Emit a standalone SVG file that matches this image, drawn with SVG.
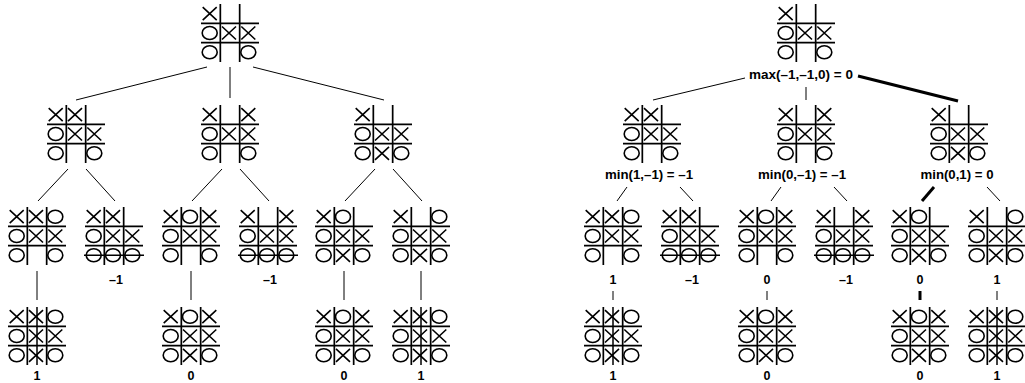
<svg xmlns="http://www.w3.org/2000/svg" xmlns:xlink="http://www.w3.org/1999/xlink" width="1025" height="383" viewBox="0 0 1025 383">
<style>
.grid{fill:none;stroke:#000;stroke-width:1.7}
.mk{fill:none;stroke:#000;stroke-width:1.6}
.st{stroke:#000;stroke-width:1.5}
.cn{stroke:#000;stroke-width:1;fill:none}
.th{stroke:#000;stroke-width:3;fill:none}
.lb{font-family:"Liberation Sans",Arial,sans-serif;font-weight:bold;font-size:12.5px;text-anchor:middle;fill:#000}
</style>
<defs>
<path id="grid" class="grid" d="M19.33 0V58M38.67 0V58M0 19.33H58M0 38.67H58"/>
<path id="X" class="mk" d="M-7 -6.5L7 6.5M-7 6.5L7 -6.5"/>
<ellipse id="O" class="mk" rx="7.5" ry="6.5"/>
<g id="mid"><use href="#O" x="8.7" y="29"/><use href="#X" x="28" y="29"/><use href="#X" x="47.3" y="29"/></g>
<g id="b_root"><use href="#grid"/><use href="#X" x="8.7" y="9.7"/><use href="#mid"/><use href="#O" x="8.7" y="48.3"/><use href="#O" x="47.3" y="48.3"/></g>
<g id="b_1a"><use href="#grid"/><use href="#X" x="8.7" y="9.7"/><use href="#X" x="28" y="9.7"/><use href="#mid"/><use href="#O" x="8.7" y="48.3"/><use href="#O" x="47.3" y="48.3"/></g>
<g id="b_1b"><use href="#grid"/><use href="#X" x="8.7" y="9.7"/><use href="#X" x="47.3" y="9.7"/><use href="#mid"/><use href="#O" x="8.7" y="48.3"/><use href="#O" x="47.3" y="48.3"/></g>
<g id="b_1c"><use href="#grid"/><use href="#X" x="8.7" y="9.7"/><use href="#mid"/><use href="#O" x="8.7" y="48.3"/><use href="#X" x="28" y="48.3"/><use href="#O" x="47.3" y="48.3"/></g>
<g id="b_2a"><use href="#grid"/><use href="#X" x="8.7" y="9.7"/><use href="#X" x="28" y="9.7"/><use href="#O" x="47.3" y="9.7"/><use href="#mid"/><use href="#O" x="8.7" y="48.3"/><use href="#O" x="47.3" y="48.3"/></g>
<g id="b_2b"><use href="#grid"/><use href="#X" x="8.7" y="9.7"/><use href="#X" x="28" y="9.7"/><use href="#mid"/><use href="#O" x="8.7" y="48.3"/><use href="#O" x="28" y="48.3"/><use href="#O" x="47.3" y="48.3"/><line class="st" x1="-1" y1="48.3" x2="59" y2="48.3"/></g>
<g id="b_2c"><use href="#grid"/><use href="#X" x="8.7" y="9.7"/><use href="#O" x="28" y="9.7"/><use href="#X" x="47.3" y="9.7"/><use href="#mid"/><use href="#O" x="8.7" y="48.3"/><use href="#O" x="47.3" y="48.3"/></g>
<g id="b_2d"><use href="#grid"/><use href="#X" x="8.7" y="9.7"/><use href="#X" x="47.3" y="9.7"/><use href="#mid"/><use href="#O" x="8.7" y="48.3"/><use href="#O" x="28" y="48.3"/><use href="#O" x="47.3" y="48.3"/><line class="st" x1="-1" y1="48.3" x2="59" y2="48.3"/></g>
<g id="b_2e"><use href="#grid"/><use href="#X" x="8.7" y="9.7"/><use href="#O" x="28" y="9.7"/><use href="#mid"/><use href="#O" x="8.7" y="48.3"/><use href="#X" x="28" y="48.3"/><use href="#O" x="47.3" y="48.3"/></g>
<g id="b_2f"><use href="#grid"/><use href="#X" x="8.7" y="9.7"/><use href="#O" x="47.3" y="9.7"/><use href="#mid"/><use href="#O" x="8.7" y="48.3"/><use href="#X" x="28" y="48.3"/><use href="#O" x="47.3" y="48.3"/></g>
<g id="b_3x"><use href="#grid"/><use href="#X" x="8.7" y="9.7"/><use href="#X" x="28" y="9.7"/><use href="#O" x="47.3" y="9.7"/><use href="#mid"/><use href="#O" x="8.7" y="48.3"/><use href="#X" x="28" y="48.3"/><use href="#O" x="47.3" y="48.3"/><line class="st" x1="29" y1="0" x2="29" y2="58"/></g>
<g id="b_3d"><use href="#grid"/><use href="#X" x="8.7" y="9.7"/><use href="#O" x="28" y="9.7"/><use href="#X" x="47.3" y="9.7"/><use href="#mid"/><use href="#O" x="8.7" y="48.3"/><use href="#X" x="28" y="48.3"/><use href="#O" x="47.3" y="48.3"/></g>
</defs>

<g id="connectors">
<line class="cn" x1="207" y1="67" x2="76" y2="100"/>
<line class="cn" x1="230" y1="67" x2="230" y2="98"/>
<line class="cn" x1="253" y1="67" x2="384" y2="100"/>
<line class="cn" x1="68" y1="169" x2="38" y2="201"/>
<line class="cn" x1="86" y1="169" x2="115" y2="201"/>
<line class="cn" x1="222" y1="169" x2="192" y2="201"/>
<line class="cn" x1="240" y1="169" x2="269" y2="201"/>
<line class="cn" x1="375" y1="169" x2="345" y2="201"/>
<line class="cn" x1="393" y1="169" x2="422" y2="201"/>
<line class="cn" x1="37" y1="271" x2="37" y2="300"/>
<line class="cn" x1="191" y1="271" x2="191" y2="300"/>
<line class="cn" x1="344" y1="271" x2="344" y2="300"/>
<line class="cn" x1="421" y1="271" x2="421" y2="300"/>
<line class="cn" x1="745" y1="78" x2="653" y2="100"/>
<line class="cn" x1="806" y1="87" x2="806" y2="100"/>
<line class="th" x1="858" y1="76" x2="958" y2="101"/>
<line class="cn" x1="627" y1="187" x2="617" y2="201"/>
<line class="cn" x1="680" y1="187" x2="693" y2="201"/>
<line class="cn" x1="781" y1="187" x2="771" y2="201"/>
<line class="cn" x1="834" y1="187" x2="847" y2="201"/>
<line class="th" x1="934" y1="187" x2="922" y2="201"/>
<line class="cn" x1="987" y1="187" x2="1000" y2="201"/>
<line class="cn" x1="613" y1="291" x2="613" y2="300"/>
<line class="cn" x1="767" y1="291" x2="767" y2="300"/>
<line class="th" x1="920" y1="291" x2="920" y2="300"/>
<line class="cn" x1="997" y1="291" x2="997" y2="300"/>
</g>

<g id="L_root"><use href="#b_root" x="201" y="4"/></g>
<g id="L_1a"><use href="#b_1a" x="47" y="105"/></g>
<g id="L_1b"><use href="#b_1b" x="201" y="105"/></g>
<g id="L_1c"><use href="#b_1c" x="354" y="105"/></g>
<g id="L_2a"><use href="#b_2a" x="8" y="207"/></g>
<g id="L_2b"><use href="#b_2b" x="85" y="207"/><text class="lb" x="116" y="284">–1</text></g>
<g id="L_2c"><use href="#b_2c" x="162" y="207"/></g>
<g id="L_2d"><use href="#b_2d" x="239" y="207"/><text class="lb" x="270" y="284">–1</text></g>
<g id="L_2e"><use href="#b_2e" x="315" y="207"/></g>
<g id="L_2f"><use href="#b_2f" x="392" y="207"/></g>
<g id="L_3a"><use href="#b_3x" x="8" y="307"/><text class="lb" x="37" y="380">1</text></g>
<g id="L_3c"><use href="#b_3d" x="162" y="307"/><text class="lb" x="191" y="380">0</text></g>
<g id="L_3e"><use href="#b_3d" x="315" y="307"/><text class="lb" x="344" y="380">0</text></g>
<g id="L_3f"><use href="#b_3x" x="392" y="307"/><text class="lb" x="421" y="380">1</text></g>

<g id="R_root"><use href="#b_root" x="777" y="4"/><text class="lb" x="801" y="79" textLength="104" lengthAdjust="spacingAndGlyphs">max(–1,–1,0) = 0</text></g>
<g id="R_1a"><use href="#b_1a" x="623" y="105"/><text class="lb" x="649" y="179" textLength="88" lengthAdjust="spacingAndGlyphs">min(1,–1) = –1</text></g>
<g id="R_1b"><use href="#b_1b" x="777" y="105"/><text class="lb" x="802" y="179" textLength="88" lengthAdjust="spacingAndGlyphs">min(0,–1) = –1</text></g>
<g id="R_1c"><use href="#b_1c" x="930" y="105"/><text class="lb" x="957" y="179" textLength="73" lengthAdjust="spacingAndGlyphs">min(0,1) = 0</text></g>
<g id="R_2a"><use href="#b_2a" x="584" y="207"/><text class="lb" x="613" y="284">1</text></g>
<g id="R_2b"><use href="#b_2b" x="661" y="207"/><text class="lb" x="692" y="284">–1</text></g>
<g id="R_2c"><use href="#b_2c" x="738" y="207"/><text class="lb" x="767" y="284">0</text></g>
<g id="R_2d"><use href="#b_2d" x="815" y="207"/><text class="lb" x="846" y="284">–1</text></g>
<g id="R_2e"><use href="#b_2e" x="891" y="207"/><text class="lb" x="920" y="284">0</text></g>
<g id="R_2f"><use href="#b_2f" x="968" y="207"/><text class="lb" x="997" y="284">1</text></g>
<g id="R_3a"><use href="#b_3x" x="584" y="307"/><text class="lb" x="613" y="380">1</text></g>
<g id="R_3c"><use href="#b_3d" x="738" y="307"/><text class="lb" x="767" y="380">0</text></g>
<g id="R_3e"><use href="#b_3d" x="891" y="307"/><text class="lb" x="920" y="380">0</text></g>
<g id="R_3f"><use href="#b_3x" x="968" y="307"/><text class="lb" x="997" y="380">1</text></g>
</svg>
